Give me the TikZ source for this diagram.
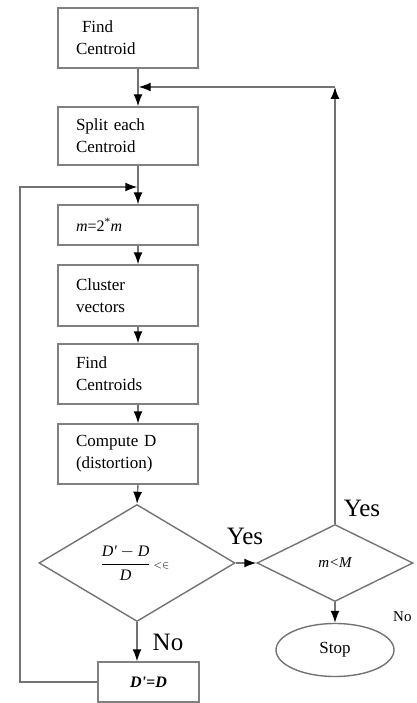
\documentclass[tikz,border=0pt]{standalone}
\usepackage{fontspec}
\setmainfont{Liberation Serif}
\usetikzlibrary{shapes.geometric,arrows.meta}
\begin{document}
\begin{tikzpicture}[x=1pt,y=-1pt,
  line/.style={draw=black!55, line width=1.4pt},
  arr/.style={line, -{Latex[length=12pt,width=9pt,color=black]}},
  stepbox/.style={draw=black!50, line width=1.4pt, rectangle, minimum width=140pt,
    text width=104pt, inner xsep=18pt, inner ysep=0pt, align=left,
    font=\fontsize{17}{22}\selectfont},
  dia/.style={draw=black!55, line width=1.4pt, diamond, inner sep=0pt},
  lbl/.style={font=\fontsize{25}{27}\selectfont, inner sep=0pt}]
\useasboundingbox (0,0) rectangle (416,703);
\coordinate (spine) at (138,0);
\node[stepbox, minimum height=60pt] (b1) at (128,38) {\hspace*{6pt}Find\\Centroid};
\node[stepbox, minimum height=58pt] (b2) at (128,136) {Split each\\Centroid};
\node[stepbox, minimum height=40pt, font=\fontsize{16}{20}\selectfont] (b3) at (128,225) {{\itshape m}=2\textsuperscript{*}{\itshape m}};
\node[stepbox, minimum height=61pt] (b4) at (128,295.5) {Cluster\\vectors};
\node[stepbox, minimum height=60pt] (b5) at (128,374) {Find\\Centroids};
\node[stepbox, minimum height=60pt] (b6) at (128,454) {Compute D\\(distortion)};
\node[dia, minimum width=196pt, minimum height=117pt, font=\fontsize{16}{19}\selectfont] (d1) at (137,563)
  {\hspace*{-4pt}$\displaystyle\frac{\textit{D\textquotesingle}-\textit{D}}{\textit{D}}\,{\scriptstyle<\in}$};
\node[dia, minimum width=156pt, minimum height=77pt, font=\fontsize{15}{18}\selectfont\itshape] (d2) at (335,563) {m<M};
\node[draw=black!55, line width=1.4pt, ellipse, minimum width=118pt, minimum height=53pt, inner sep=0pt,
  font=\fontsize{17}{20}\selectfont] (stop) at (335,650) {Stop};
\node[draw=black!50, line width=1.4pt, rectangle, minimum width=101pt, minimum height=40pt, inner sep=0pt,
  font=\fontsize{16}{20}\selectfont\bfseries\itshape] (dd) at (148.5,682) {D\textquotesingle=D};
\coordinate (j1) at (138,87);
\coordinate (j2) at (138,187);
\coordinate (lc) at (20,187);
\coordinate (tc) at (335,87);
\draw[arr] (b1.south -| spine) -- (b2.north -| spine);
\draw[arr] (b2.south -| spine) -- (b3.north -| spine);
\draw[arr] (b3.south -| spine) -- (b4.north -| spine);
\draw[arr] (b4.south -| spine) -- (b5.north -| spine);
\draw[arr] (b5.south -| spine) -- (b6.north -| spine);
\draw[arr] (b6.south -| spine) -- (d1.north);
\draw[arr] (d1.east) -- (d2.west);
\draw[arr] (d1.south) -- (dd.north -| d1.south);
\draw[arr] (d2.south) -- (stop.north);
\draw[arr, shorten >=0.7pt] (dd.west) -| (lc) -- (j2);
\draw[arr] (d2.north) -- (tc);
\draw[arr, shorten >=0.7pt] (tc) -- (j1);
\node[lbl] (y1) at (245,536) {Yes};
\node[lbl] (y2) at (362,508) {Yes};
\node[lbl] (n1) at (168,642) {No};
\node[lbl, anchor=west, font=\fontsize{15}{17}\selectfont] (n2) at (393,617) {No};
\end{tikzpicture}
\end{document}
